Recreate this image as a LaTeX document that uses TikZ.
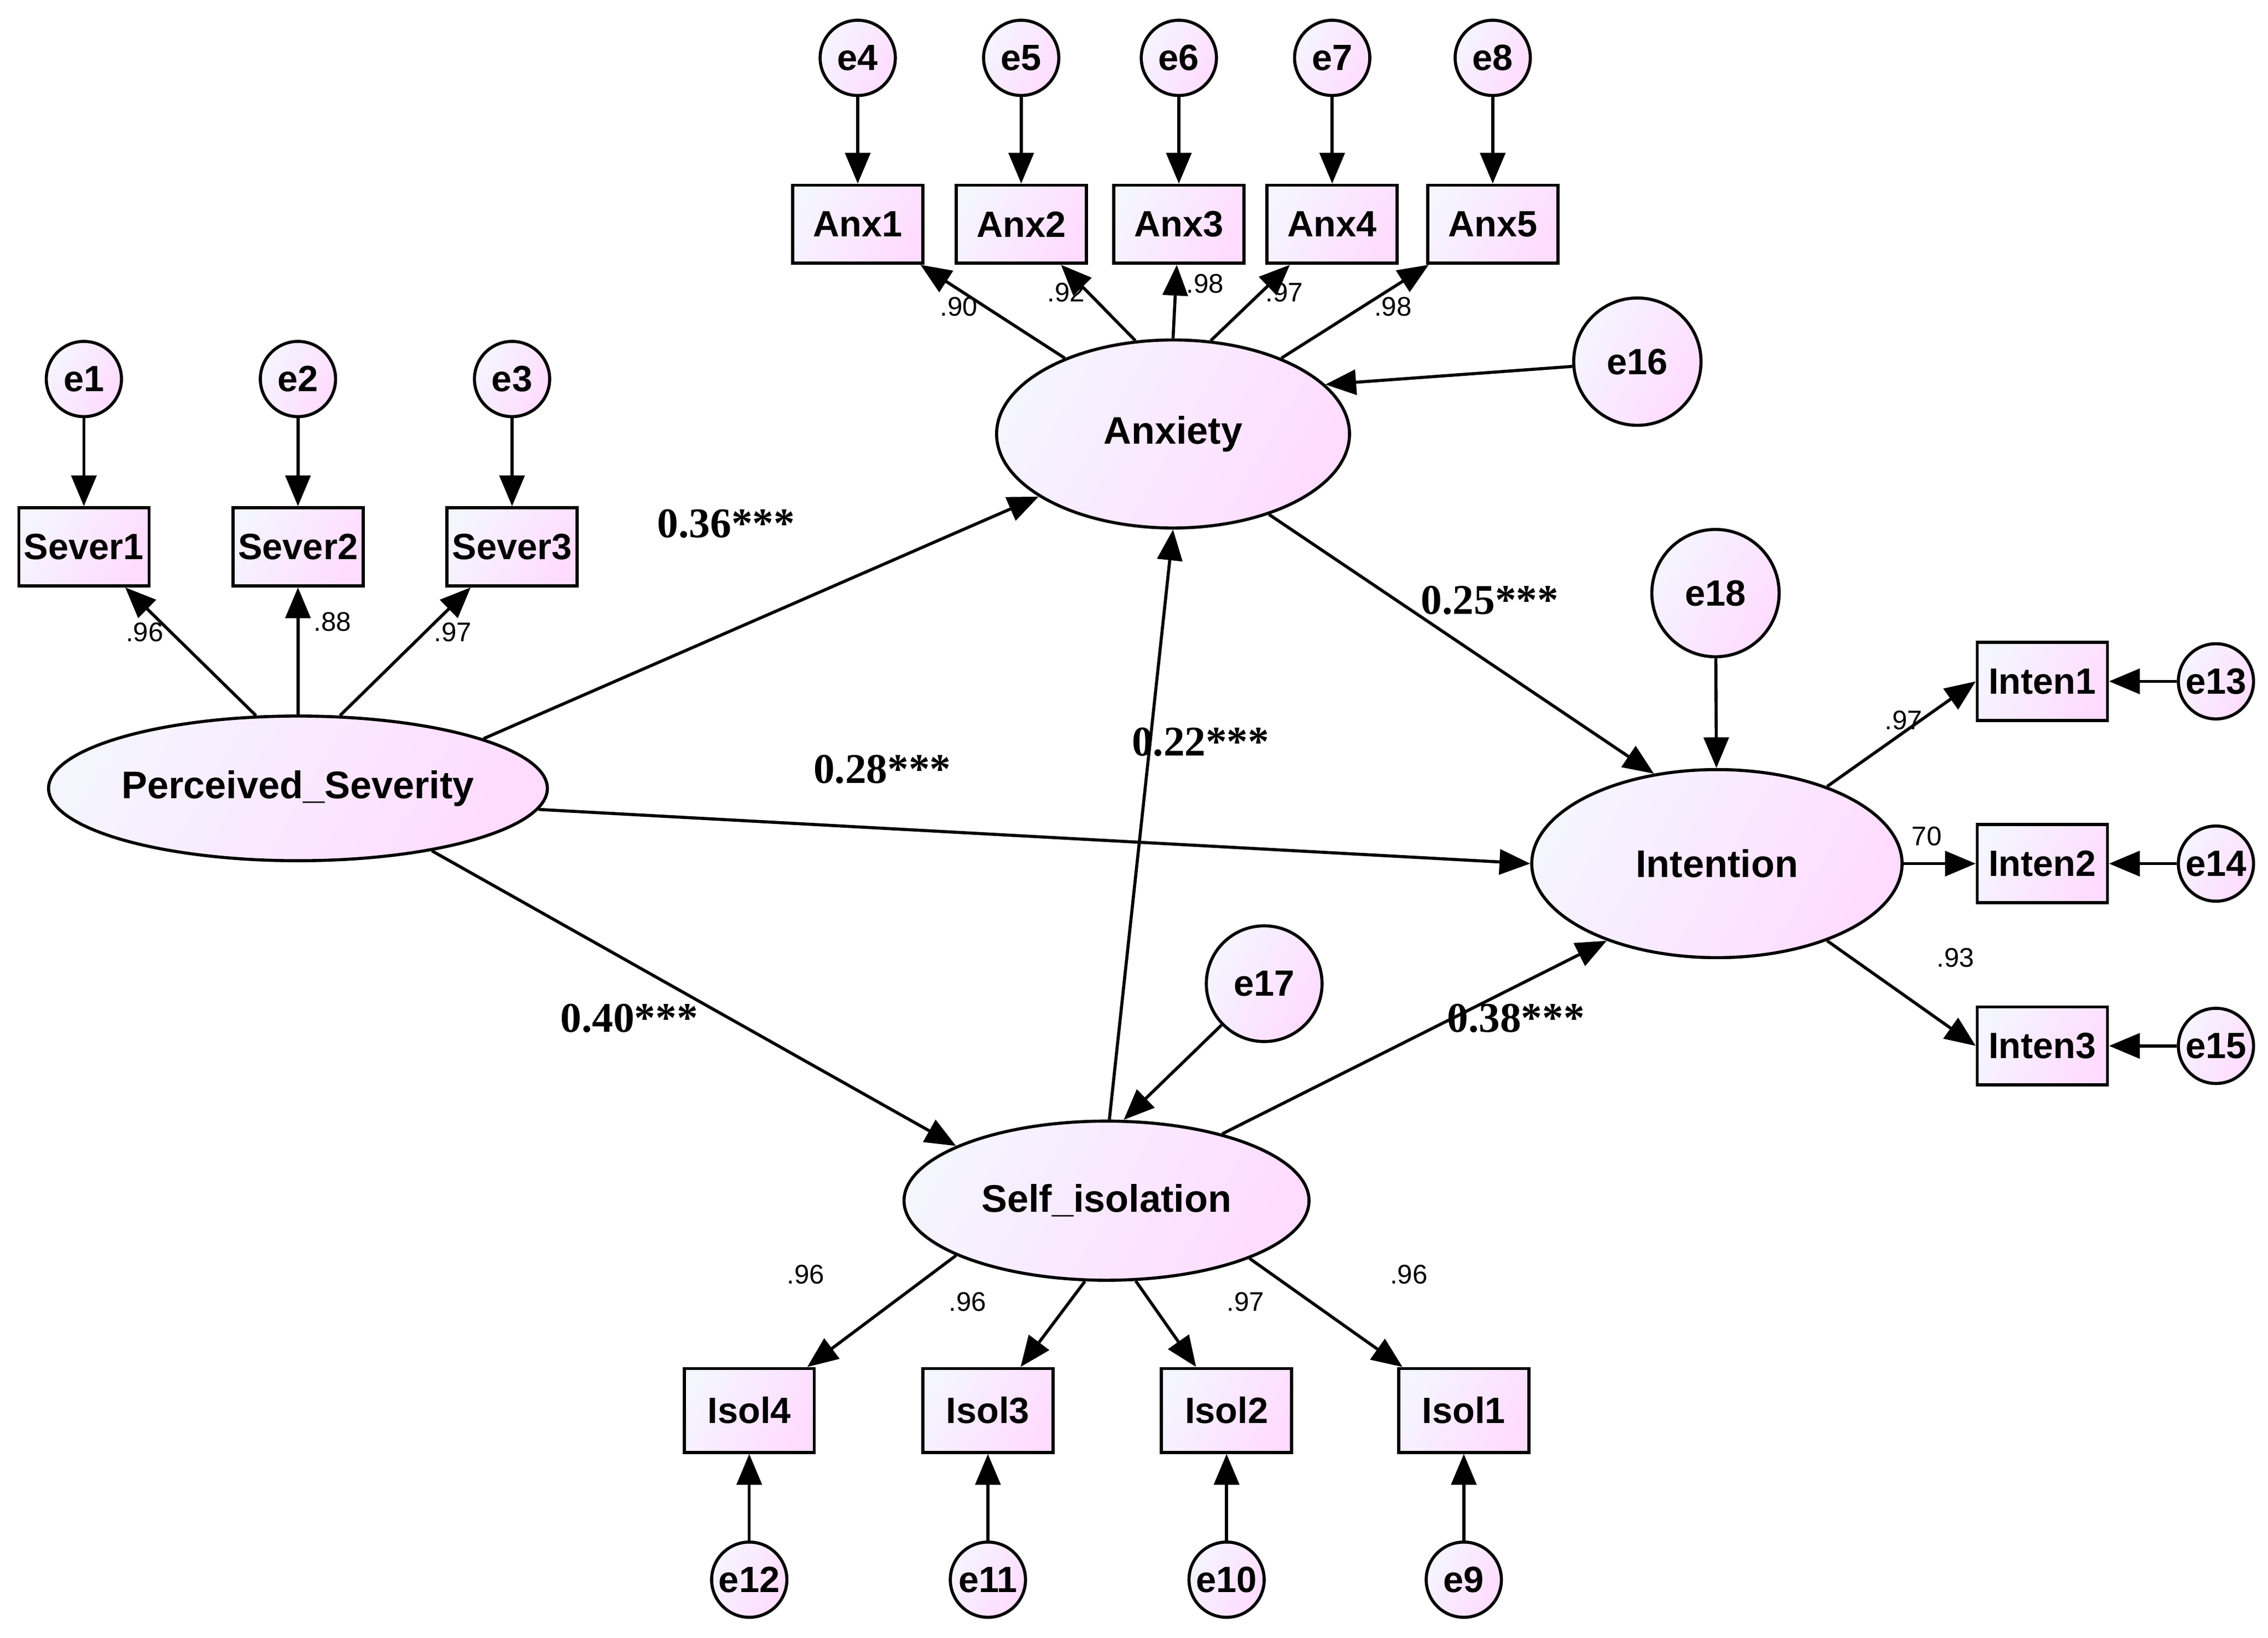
\documentclass[tikz,border=0pt]{standalone}
\usepackage{fontspec}
\setmainfont{Liberation Sans}
\newfontfamily\tms{Liberation Serif}
\usetikzlibrary{shapes.geometric,arrows.meta}
\begin{document}
\begin{tikzpicture}[x=0.02644cm,y=-0.02644cm,
 gr/.style={left color=black!6!blue!4!white, right color=magenta!14!white, shading angle=60},
 box/.style={draw,line width=1.6pt,gr,minimum width={90*0.02644cm},minimum height={54*0.02644cm},inner sep=0pt,font=\bfseries\fontsize{19}{20}\selectfont},
 err/.style={circle,draw,line width=1.6pt,gr,minimum size={52*0.02644cm},inner sep=0pt,font=\bfseries\fontsize{19}{20}\selectfont},
 lat/.style={ellipse,draw,line width=1.6pt,gr,inner sep=0pt,font=\bfseries\fontsize{20}{22}\selectfont},
 ar/.style={line width=1.6pt,-{Triangle[length=16pt,width=13pt]}},
 ld/.style={font=\fontsize{14}{15}\selectfont},
 pl/.style={font=\tms\bfseries\fontsize{22}{24}\selectfont}]
\useasboundingbox (0,0) rectangle (1568,1132);
% latents
\node[lat,minimum width={276*0.02644cm},minimum height={100*0.02644cm}] (ps) at (206,545) {Perceived\_Severity};
\node[lat,minimum width={244*0.02644cm},minimum height={130*0.02644cm}] (anx) at (811,300) {Anxiety};
\node[lat,minimum width={256*0.02644cm},minimum height={130*0.02644cm}] (int) at (1187,597) {Intention};
\node[lat,minimum width={280*0.02644cm},minimum height={110*0.02644cm}] (si) at (765,830) {Self\_isolation};
% Severity
\foreach \i/\x in {1/58,2/206,3/354}{
 \node[box] (s\i) at (\x,378) {Sever\i};
 \node[err] (e\i) at (\x,262) {e\i};
 \draw[ar] (e\i) -- (s\i);
}
\draw[ar] (ps.120) -- (s1); \draw[ar] (ps) -- (s2); \draw[ar] (ps.60) -- (s3);
\node[ld] at (100,437) {.96}; \node[ld] at (230,430) {.88}; \node[ld] at (313,437) {.97};
% Anxiety
\foreach \i/\x/\e in {1/593/4,2/706/5,3/815/6,4/921/7,5/1032/8}{
 \node[box] (a\i) at (\x,155) {Anx\i};
 \node[err] (e\e) at (\x,40) {e\e};
 \draw[ar] (e\e) -- (a\i);
}
\draw[ar] (anx.145) -- (a1); \draw[ar] (anx.112) -- (a2); \draw[ar] (anx.90) -- (a3);
\draw[ar] (anx.68) -- (a4); \draw[ar] (anx.35) -- (a5);
\node[ld] at (663,212) {.90}; \node[ld] at (737,202) {.92}; \node[ld] at (833,196) {.98};
\node[ld] at (888,202) {.97}; \node[ld] at (963,212) {.98};
\node[err,minimum size={88*0.02644cm}] (e16) at (1132,250) {e16};
\draw[ar] (e16) -- (anx.18);
% Intention
\node[err,minimum size={88*0.02644cm}] (e18) at (1186,410) {e18};
\draw[ar] (e18) -- (int);
\foreach \i/\y/\e in {1/471/13,2/597/14,3/723/15}{
 \node[box] (n\i) at (1412,\y) {Inten\i};
 \node[err] (e\e) at (1532,\y) {e\e};
 \draw[ar] (e\e) -- (n\i);
}
\draw[ar] (int.35) -- (n1.west); \draw[ar] (int) -- (n2); \draw[ar] (int.-35) -- (n3.west);
\node[ld] at (1316,498) {.97}; \node[ld] at (1332,578) {70}; \node[ld] at (1352,662) {.93};
% Self isolation
\node[err,minimum size={80*0.02644cm}] (e17) at (874,680) {e17};
\draw[ar] (e17) -- (si.78);
\foreach \i/\x/\e in {4/518/12,3/683/11,2/848/10,1/1012/9}{
 \node[box,minimum height={58*0.02644cm}] (i\i) at (\x,975) {Isol\i};
 \node[err] (e\e) at (\x,1092) {e\e};
 \draw[ar] (e\e) -- (i\i);
}
\draw[ar] (si.200) -- (i4); \draw[ar] (si.255) -- (i3); \draw[ar] (si.-70) -- (i2); \draw[ar] (si.-22) -- (i1);
\node[ld] at (557,881) {.96}; \node[ld] at (669,900) {.96}; \node[ld] at (861,900) {.97}; \node[ld] at (974,881) {.96};
% structural paths
\draw[ar] (ps.15) -- (anx.205);
\draw[ar] (ps.-5) -- (int.180);
\draw[ar] (ps.-25) -- (si.160);
\draw[ar] (anx.-40) -- (int.125);
\draw[ar] (si.88) -- (anx.270);
\draw[ar] (si.30) -- (int.215);
\node[pl] at (502,362) {0.36***};
\node[pl] at (1030,415) {0.25***};
\node[pl] at (610,532) {0.28***};
\node[pl] at (830,513) {0.22***};
\node[pl] at (435,704) {0.40***};
\node[pl] at (1048,704) {0.38***};
\end{tikzpicture}
\end{document}
